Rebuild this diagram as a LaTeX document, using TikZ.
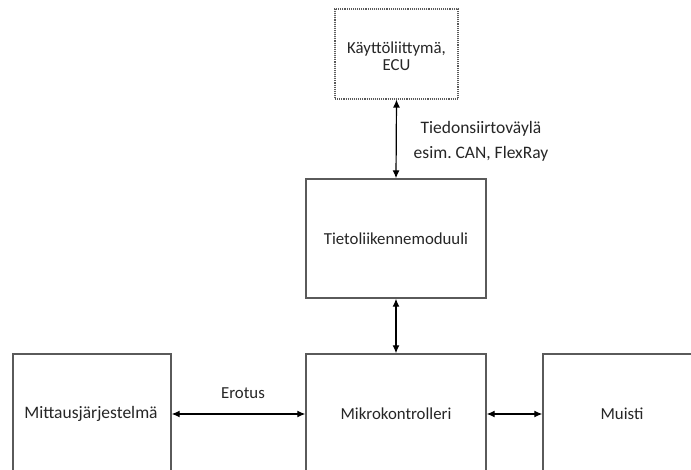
\documentclass[tikz,border=0pt]{standalone}
\usepackage{fontspec}
\setmainfont{Carlito}
\frenchspacing
\usetikzlibrary{arrows.meta}
\definecolor{boxline}{HTML}{5A5A5A}
\definecolor{txt}{HTML}{262626}
\tikzset{
  blk/.style={draw=boxline, line width=1.4pt, rectangle, inner sep=0pt, fill=white},
  dotblk/.style={draw=boxline, line width=1.1pt, densely dotted, rectangle, inner sep=0pt},
  lbl/.style={text=txt, font=\fontsize{16.8}{19}\selectfont, inner sep=0pt, align=center},
  conn/.style={black, line width=1.2pt, {Latex[length=8pt,width=7pt]}-{Latex[length=8pt,width=7pt]}}
}
\begin{document}
\begin{tikzpicture}[x=1pt,y=-1pt]
\useasboundingbox (0,0) rectangle (691,470);
\clip (0,0) rectangle (691,470);
\fill[white] (0,0) rectangle (691,470);
% boxes
\node[dotblk, minimum width=123pt, minimum height=90pt] (ui) at (396.5,54) {};
\node[blk, minimum width=180pt, minimum height=119pt] (tm) at (396,238.5) {};
\node[blk, minimum width=180pt, minimum height=120pt] (mk) at (396,414) {};
\node[blk, minimum width=158pt, minimum height=120pt] (mj) at (92,414) {};
\node[blk, minimum width=158pt, minimum height=120pt] (mu) at (622,414) {};
% texts
\node[lbl, font=\fontsize{16.8}{17}\selectfont] (uit) at (396.5,56) {Käyttöliittymä,\\ECU};
\node[lbl] (tmt) at (396,239) {Tietoliikennemoduuli};
\node[lbl] (mkt) at (396,414) {Mikrokontrolleri};
\node[lbl, font=\fontsize{17.5}{19}\selectfont] (mjt) at (91,414) {Mittausjärjestelmä};
\node[lbl] (mut) at (622,414) {Muisti};
% connectors
\draw[conn] (ui.south) -- (tm.north);
\draw[conn] (tm.south) -- (mk.north);
\draw[conn] (mj.east) -- (mk.west);
\draw[conn] (mk.east) -- (mu.west);
% connector labels
\node[lbl, font=\fontsize{17.5}{25}\selectfont] (bus) at (481,141) {Tiedonsiirtoväylä\\esim. CAN, FlexRay};
\node[lbl] (ero) at (243,393) {Erotus};
\end{tikzpicture}
\end{document}
